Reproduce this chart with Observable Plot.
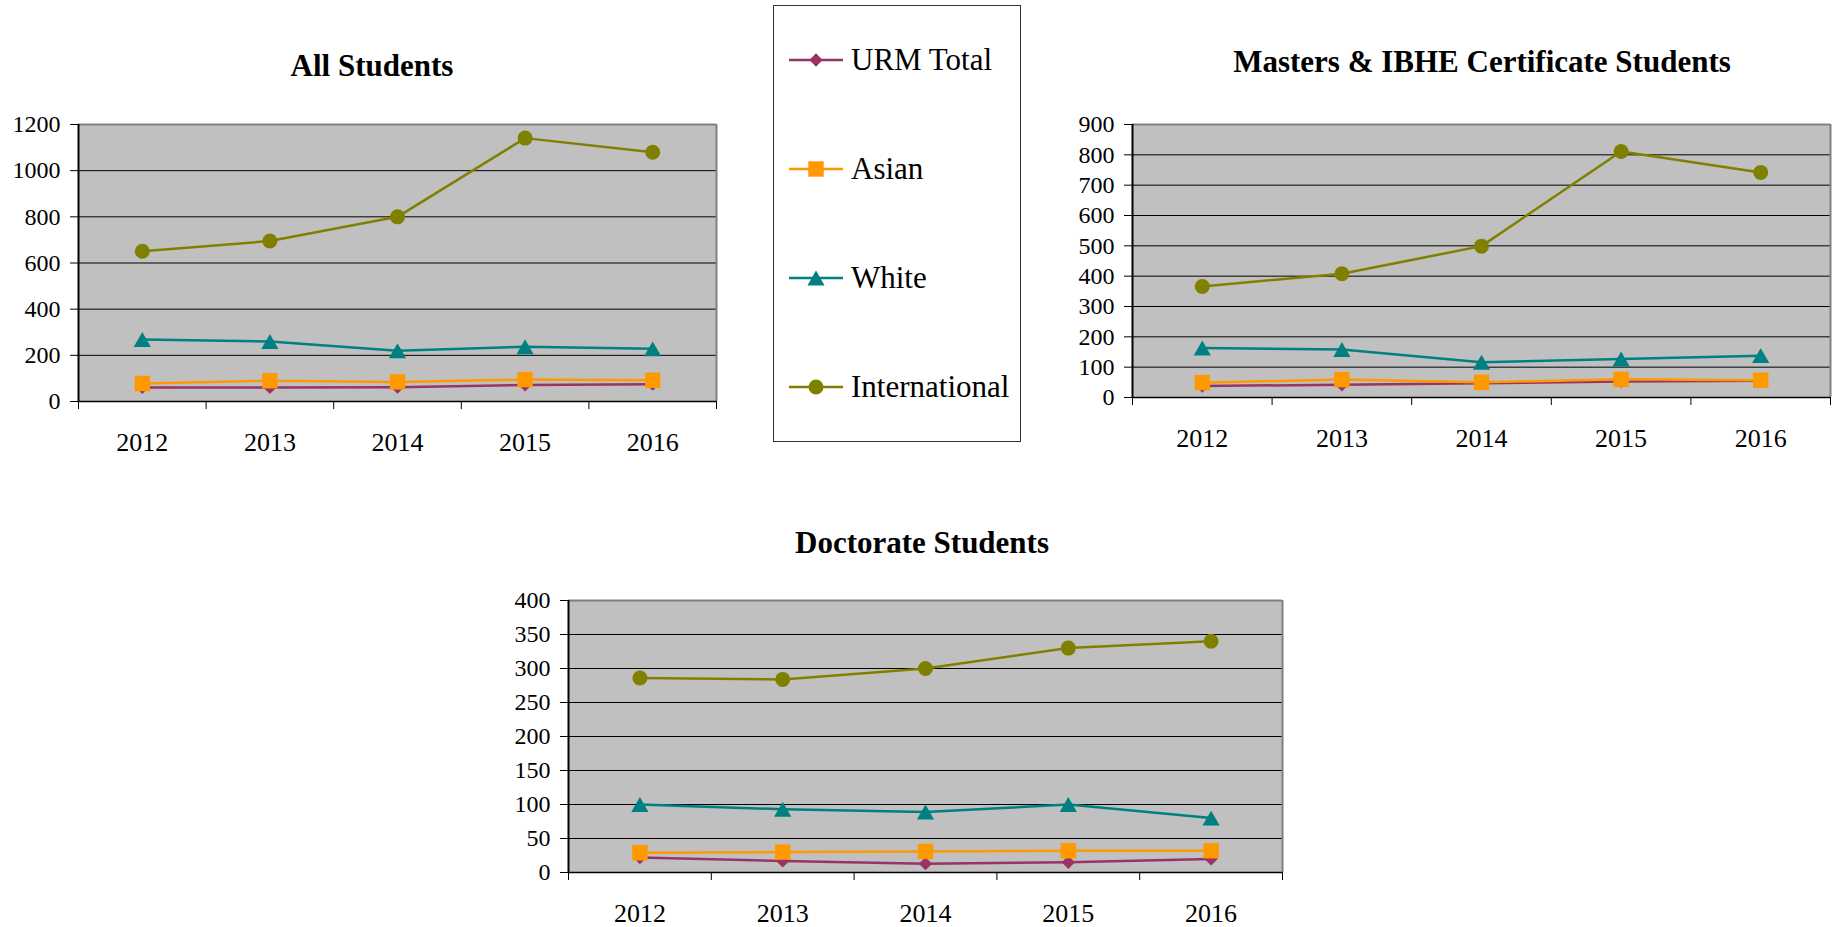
<!DOCTYPE html>
<html>
<head>
<meta charset="utf-8">
<script src="https://cdn.jsdelivr.net/npm/d3@7"></script>
<script src="https://cdn.jsdelivr.net/npm/@observablehq/plot@0.6"></script>
<style>
  body { margin: 0; background: #fff; }
  #root { position: relative; width: 1832px; height: 927px; overflow: hidden; font-family: "Liberation Serif", serif; }
  .chart { position: absolute; }
  svg { overflow: visible; }
  svg, svg text { font-family: "Liberation Serif", "Times New Roman", serif !important; }
</style>
</head>
<body>
<div id="root"></div>
<script>
// ---- data ----
const years = [2012, 2013, 2014, 2015, 2016];
const seriesNames = ["URM Total", "Asian", "White", "International"];
const seriesColors = ["#993366", "#FF9900", "#008080", "#808000"];

const allURM   = [61, 61, 62, 72, 75];
const allAsian = [78, 90, 85, 95, 92];
const allWhite = [269, 260, 220, 237, 228];
const allIntl  = [651, 695, 800, 1141, 1080];
const allTicks = [0, 200, 400, 600, 800, 1000, 1200];

const mastersURM   = [38, 42, 47, 53, 55];
const mastersAsian = [49, 59, 50, 60, 57];
const mastersWhite = [163, 158, 116, 127, 138];
const mastersIntl  = [366, 408, 499, 811, 742];
const mastersTicks = [0, 100, 200, 300, 400, 500, 600, 700, 800, 900];

const docURM   = [22, 17, 13, 15, 20];
const docAsian = [29, 30, 31, 32, 32];
const docWhite = [100, 93, 89, 100, 80];
const docIntl  = [286, 284, 300, 330, 340];
const docTicks = [0, 50, 100, 150, 200, 250, 300, 350, 400];

const titles = ["All Students", "Masters & IBHE Certificate Students", "Doctorate Students"];

// ---- drawing ----
const root = document.getElementById("root");
const FONT = "Liberation Serif, Times New Roman, serif";
const symbols = [
  {symbol: "diamond2", r: 6, dy: 0},
  {symbol: "square", r: 8.7, dy: 0},
  {symbol: "triangle", r: 6.4, dy: 2.5},
  {symbol: "circle", r: 7.5, dy: 0}
];

function makeChart(values, ticks, box) {
  const rows = seriesNames.flatMap((s, si) => years.map((yr, i) => ({series: s, year: yr, value: values[si][i]})));
  const xmin = years[0] - 0.5, xmax = years[years.length - 1] + 0.5;
  const bounds = years.map(y => y - 0.5).concat([xmax]);
  const yMax = ticks[ticks.length - 1];
  const seriesMarks = seriesNames.flatMap((s, si) => {
    const d = rows.filter(r => r.series === s);
    return [
      Plot.line(d, {x: "year", y: "value", stroke: seriesColors[si], strokeWidth: 2.5}),
      Plot.dot(d, {x: "year", y: "value", symbol: symbols[si].symbol, r: symbols[si].r, dy: symbols[si].dy, fill: seriesColors[si], stroke: "none"})
    ];
  });
  const svg = Plot.plot({
    width: box.width, height: box.height,
    marginLeft: box.ml, marginRight: box.mr, marginTop: box.mt, marginBottom: box.mb,
    x: {type: "linear", domain: [xmin, xmax], label: null},
    y: {type: "linear", domain: [0, yMax], label: null},
    style: {fontFamily: FONT, color: "#000", background: "transparent", overflow: "visible"},
    marks: [
      Plot.frame({fill: "#c0c0c0", stroke: "none"}),
      Plot.ruleY(ticks.slice(1, -1), {stroke: "#000", strokeWidth: 1}),
      Plot.ruleY([yMax], {stroke: "#808080", strokeWidth: 2}),
      Plot.ruleX([xmax], {stroke: "#808080", strokeWidth: 2}),
      Plot.ruleY([0], {stroke: "#000", strokeWidth: 1.5}),
      Plot.ruleX([xmin], {stroke: "#000", strokeWidth: 2}),
      Plot.axisY({ticks, tickSize: 8, tickPadding: 10, fontSize: 24, fontFamily: FONT, tickFormat: d => String(d), label: null}),
      Plot.axisX({ticks: bounds, tickSize: 8, tickFormat: () => "", label: null}),
      Plot.axisX({ticks: years, tickSize: 0, tickPadding: 31, fontSize: 26, fontFamily: FONT, tickFormat: d => String(d), label: null}),
      ...seriesMarks
    ]
  });
  const div = document.createElement("div");
  div.className = "chart";
  div.style.left = box.left + "px";
  div.style.top = box.top + "px";
  div.appendChild(svg);
  root.appendChild(div);
}

makeChart([allURM, allAsian, allWhite, allIntl], allTicks,
  {left: 0, top: 100, width: 740, height: 360, ml: 78, mr: 24, mt: 24, mb: 59});
makeChart([mastersURM, mastersAsian, mastersWhite, mastersIntl], mastersTicks,
  {left: 1080, top: 100, width: 752, height: 360, ml: 52, mr: 2, mt: 24, mb: 63});
makeChart([docURM, docAsian, docWhite, docIntl], docTicks,
  {left: 480, top: 570, width: 830, height: 357, ml: 88, mr: 28, mt: 30, mb: 55});

// ---- overlay: titles and legend ----
const ov = d3.select(root).append("svg")
  .attr("width", 1832).attr("height", 927)
  .style("position", "absolute").style("left", 0).style("top", 0)
  .style("pointer-events", "none");

const titlePos = [[372, 76], [1482, 72], [922, 553]];
titles.forEach((t, i) => {
  ov.append("text").attr("x", titlePos[i][0]).attr("y", titlePos[i][1])
    .attr("text-anchor", "middle").attr("font-family", FONT)
    .attr("font-weight", "bold").attr("font-size", 31).attr("fill", "#000").text(t);
});

ov.append("rect").attr("x", 773.5).attr("y", 5.5).attr("width", 247).attr("height", 436)
  .attr("fill", "#fff").attr("stroke", "#333").attr("stroke-width", 1);

const legendY = [60, 169, 278, 387];
const d3sym = {diamond2: d3.symbolDiamond2, square: d3.symbolSquare, triangle: d3.symbolTriangle, circle: d3.symbolCircle};
seriesNames.forEach((s, i) => {
  const y = legendY[i];
  ov.append("line").attr("x1", 789).attr("x2", 843).attr("y1", y).attr("y2", y)
    .attr("stroke", seriesColors[i]).attr("stroke-width", 2.5);
  const sz = Math.PI * symbols[i].r * symbols[i].r;
  ov.append("path").attr("d", d3.symbol(d3sym[symbols[i].symbol], sz)())
    .attr("transform", `translate(816,${y + symbols[i].dy})`).attr("fill", seriesColors[i]);
  ov.append("text").attr("x", 851).attr("y", y + 10)
    .attr("font-family", FONT).attr("font-size", 31).attr("fill", "#000").text(s);
});
</script>
</body>
</html>
